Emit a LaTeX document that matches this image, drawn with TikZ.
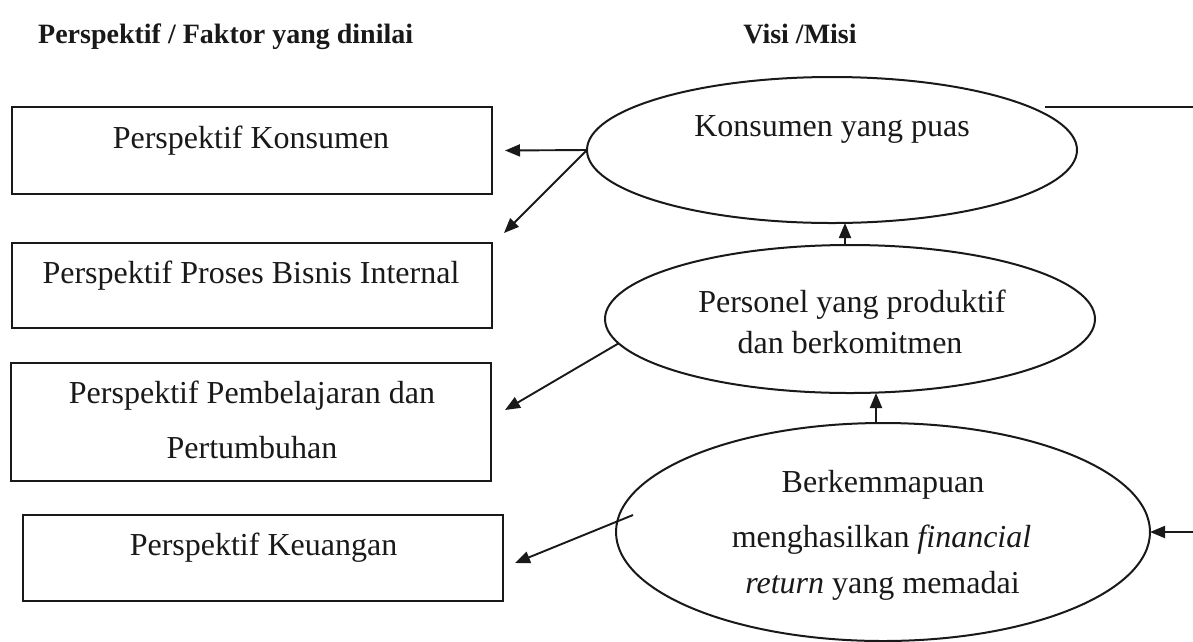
\documentclass[tikz,border=0pt]{standalone}
\usepackage{fontspec}
\setmainfont{Liberation Serif}
\usetikzlibrary{arrows.meta,shapes.geometric,calc}
\tikzset{
  box/.style={draw=black!90, line width=2pt, rectangle, inner sep=0pt, outer sep=0pt, minimum width=480pt},
  ell/.style={draw=black!90, line width=2pt, ellipse, inner sep=0pt, outer sep=0pt},
  txt/.style={inner sep=0pt, anchor=base, text=black!90, font=\fontsize{32pt}{38pt}\selectfont},
  title/.style={inner sep=0pt, anchor=base, text=black!90, font=\fontsize{28pt}{34pt}\selectfont\bfseries},
  arr/.style={draw=black!90, line width=1.9pt, -{Triangle[length=15pt,width=12pt]}}
}
\begin{document}
\begin{tikzpicture}[x=1pt,y=-1pt]
\useasboundingbox[fill=white] (0,0) rectangle (1193,641);
% titles
\node[title, anchor=base west] (t1) at (38,43) {Perspektif / Faktor yang dinilai};
\node[title] (t2) at (800,43) {Visi /Misi};
% boxes
\node[box, minimum height=87pt] (b1) at (252,150.5) {};
\node[box, minimum height=85pt] (b2) at (252,285.5) {};
\node[box, minimum height=118pt] (b3) at (251,422) {};
\node[box, minimum height=86pt] (b4) at (263,558) {};
\node[txt] (b1t) at (251,148) {Perspektif Konsumen};
\node[txt] (b2t) at (251,283) {Perspektif Proses Bisnis Internal};
\node[txt] (b3t1) at (252,403) {Perspektif Pembelajaran dan};
\node[txt] (b3t2) at (252,458) {Pertumbuhan};
\node[txt] (b4t) at (263.5,555) {Perspektif Keuangan};
% ellipses
\node[ell, minimum width=490pt, minimum height=146pt] (e1) at (832,150) {};
\node[ell, minimum width=490pt, minimum height=148pt] (e2) at (850,319) {};
\node[ell, minimum width=534pt, minimum height=218pt] (e3) at (883,532) {};
\node[txt] (e1t) at (832,136) {Konsumen yang puas};
\node[txt] (e2t1) at (852,312) {Personel yang produktif};
\node[txt] (e2t2) at (850,353) {dan berkomitmen};
\node[txt] (e3t1) at (883,492) {Berkemmapuan};
\node[txt] (e3t2) at (881.5,547) {menghasilkan \textit{financial}};
\node[txt] (e3t3) at (882.5,593) {\textit{return} yang memadai};
% connectors
\draw[arr] (e1.west) -- ([xshift=13pt]b1.east);
\draw[arr] (e1.west) -- ([shift={(12pt,10pt)}]b2.north east);
\draw[arr] (e2.186.9) -- ([shift={(14pt,12pt)}]b3.east);
\coordinate (e3s) at ([shift={(-250pt,17pt)}]e3.center);
\draw[arr] (e3s) -- ([shift={(12pt,-5pt)}]b4.east);
\draw[arr] ([xshift=-5pt]e2.north) -- ([xshift=-5pt]e2.north |- e1.south);
\draw[arr] ([xshift=-7pt]e3.north) -- ([xshift=-7pt]e3.north |- e2.south);
% feedback loop on the right (cropped at the picture's edge)
\coordinate (fb) at ([shift={(213pt,43pt)}]e1.center);
\coordinate (redge) at (1193.5,0);
\draw[arr] (fb) -- (fb -| redge) -- (e3.east -| redge) -- (e3.east);
\end{tikzpicture}
\end{document}
